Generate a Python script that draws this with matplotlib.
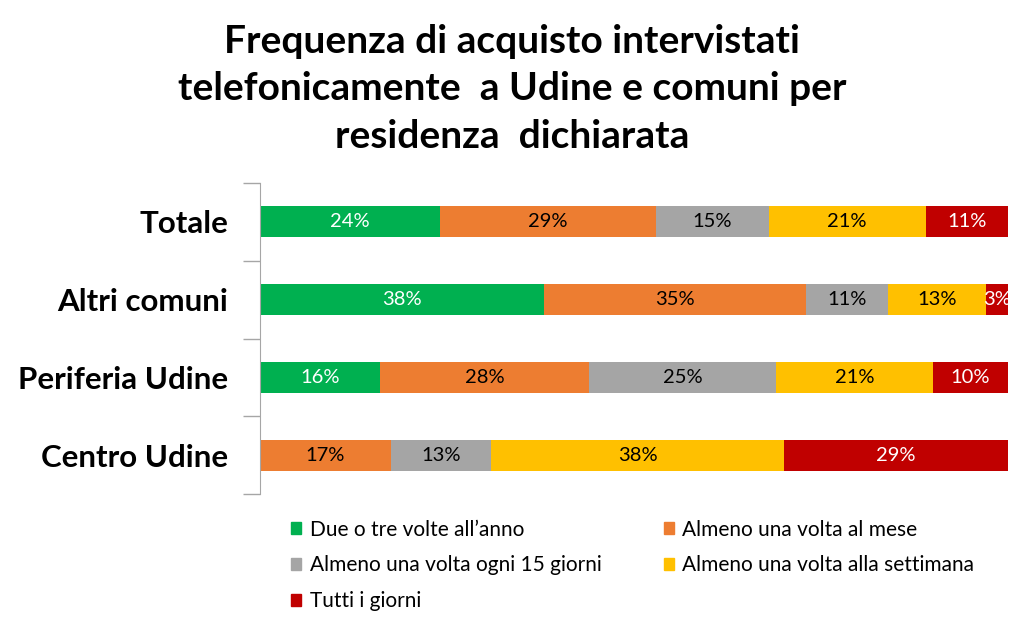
import matplotlib
matplotlib.use("Agg")
import matplotlib.pyplot as plt
from matplotlib.patches import Patch
import numpy as np

categories = ["Totale", "Altri comuni", "Periferia Udine", "Centro Udine"]
series_names = ["Due o tre volte all’anno", "Almeno una volta al mese",
                "Almeno una volta ogni 15 giorni", "Almeno una volta alla settimana",
                "Tutti i giorni"]
due_tre_anno = [24, 38, 16, 0]
mese = [29, 35, 28, 17]
ogni_15 = [15, 11, 25, 13]
settimana = [21, 13, 21, 38]
tutti_giorni = [11, 3, 10, 29]
colors = ["#00B050", "#ED7D31", "#A5A5A5", "#FFC000", "#C00000"]
label_colors = ["white", "black", "black", "black", "white"]
title = "Frequenza di acquisto intervistati\ntelefonicamente  a Udine e comuni per\nresidenza  dichiarata"

FONT = "Lato"
plt.rcParams["font.family"] = [FONT, "DejaVu Sans"]

data = np.array([due_tre_anno, mese, ogni_15, settimana, tutti_giorni], dtype=float)
shares = data / data.sum(axis=0) * 100  # 100% stacked

fig = plt.figure(figsize=(10.24, 6.25), dpi=100)
ax = fig.add_axes([260/1024, 1-494/625, 748/1024, 311/625])

y = np.arange(len(categories))
left = np.zeros(len(categories))
for i in range(len(series_names)):
    ax.barh(y, shares[i], left=left, height=0.4, color=colors[i], label=series_names[i])
    for j in range(len(categories)):
        if data[i, j] > 0:
            ax.text(left[j] + shares[i, j] / 2, y[j], f"{int(data[i, j])}%",
                    ha="center", va="center", fontsize=14.5, color=label_colors[i])
    left += shares[i]

ax.set_xlim(0, 100)
ax.set_ylim(len(categories) - 0.5, -0.5)
ax.set_yticks(y)
ax.set_yticklabels(categories, fontsize=22.5, fontweight="bold")
ax.set_yticks(np.arange(-0.5, len(categories)), minor=True)
ax.tick_params(axis="y", which="major", length=0, pad=23)
ax.tick_params(axis="y", which="minor", length=12, color="#A6A6A6", width=1)
ax.set_xticks([])
for s in ["top", "right", "bottom"]:
    ax.spines[s].set_visible(False)
ax.spines["left"].set_color("#A6A6A6")

fig.text(0.5, 1 - 89/625, title, ha="center", va="center", fontsize=28,
         fontweight="bold", linespacing=1.42)

handles = [Patch(color=c) for c in colors]
order = [0, 2, 4, 1, 3]
leg = fig.legend([handles[k] for k in order], [series_names[k] for k in order],
                 ncol=2, loc="upper left", bbox_to_anchor=(272/1024, 1 - 501/625),
                 frameon=False, fontsize=15, handlelength=0.5, handleheight=0.5,
                 handletextpad=0.4, columnspacing=3.0, labelspacing=0.75)

fig.savefig("out.png", dpi=100)
